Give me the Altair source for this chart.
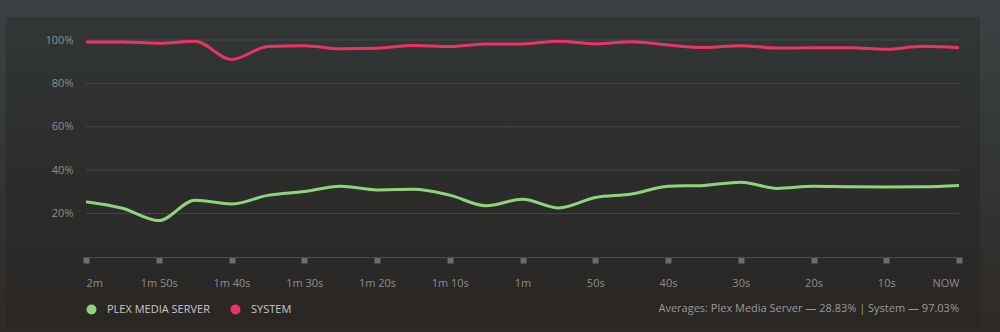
import altair as alt
import pandas as pd

# ---- data ----
seconds = list(range(-120, 1, 5))
plex = [25.5, 22.5, 16.8, 26.2, 24.4, 28.4, 30.2, 32.6, 30.9, 31.2, 28.5, 23.6, 26.6,
        22.6, 27.4, 29.0, 32.6, 33.0, 34.5, 31.6, 32.6, 32.4, 32.3, 32.4, 33.0]
system = [99.1, 99.1, 98.5, 99.4, 91.0, 97.0, 97.4, 96.0, 96.2, 97.5, 97.0, 98.2, 98.2,
          99.4, 98.2, 99.2, 97.7, 96.5, 97.4, 96.3, 96.4, 96.4, 95.7, 97.1, 96.4]
series_names = ["Plex Media Server", "System"]
averages = [28.83, 97.03]
x_tick_values = list(range(-120, 1, 10))
x_tick_labels = ["2m", "1m 50s", "1m 40s", "1m 30s", "1m 20s", "1m 10s", "1m",
                 "50s", "40s", "30s", "20s", "10s", "NOW"]
y_tick_values = [20, 40, 60, 80, 100]
colors = ["#8fd47c", "#ee3360"]

W, H = 873, 217
FONT = "Open Sans"

df = pd.DataFrame({
    "t": seconds * 2,
    "value": plex + system,
    "series": [series_names[0]] * len(seconds) + [series_names[1]] * len(seconds),
})
grid_df = pd.DataFrame({"g": y_tick_values})
one = pd.DataFrame({"a": [0]})

label_arr = "[" + ",".join("'" + s + "'" for s in x_tick_labels) + "]"
label_expr = label_arr + "[round((datum.value + 120) / 10)]"

avg_text = "Averages: {} — {:.2f}% | {} — {:.2f}%".format(
    series_names[0], averages[0], series_names[1], averages[1])

outer = alt.Chart(one).mark_rect(
    fill=alt.Gradient(gradient="linear", x1=0, x2=0, y1=0, y2=1,
                      stops=[alt.GradientStop(color="#3b4243", offset=0),
                             alt.GradientStop(color="#333535", offset=0.5),
                             alt.GradientStop(color="#2f2a26", offset=1)])
).encode(x=alt.value(-86), x2=alt.value(914), y=alt.value(-40), y2=alt.value(292))

panel = alt.Chart(one).mark_rect(
    fill=alt.Gradient(gradient="linear", x1=0, x2=0, y1=0, y2=1,
                      stops=[alt.GradientStop(color="#313636", offset=0),
                             alt.GradientStop(color="#2c2d2b", offset=0.5),
                             alt.GradientStop(color="#2a2624", offset=1)])
).encode(x=alt.value(-80), x2=alt.value(894), y=alt.value(-23), y2=alt.value(287))

grid = alt.Chart(grid_df).mark_rule(color="#434848", strokeWidth=1).encode(
    y=alt.Y("g:Q", scale=alt.Scale(domain=[0, 100])),
    x=alt.value(0), x2=alt.value(W),
)

lines = alt.Chart(df).mark_line(interpolate="monotone", strokeWidth=3).encode(
    x=alt.X("t:Q", scale=alt.Scale(domain=[-120, 0], nice=False),
            axis=alt.Axis(values=x_tick_values, labelExpr=label_expr, title=None,
                          grid=False, domain=True, domainColor="#474b4b",
                          ticks=True, tickSize=6, tickWidth=6, tickCap="butt",
                          tickColor="#6c6c6c", labelFlush=True, labelPadding=14,
                          labelFont=FONT, labelFontSize=11, labelColor="#8e8e8e",
                          zindex=1)),
    y=alt.Y("value:Q", scale=alt.Scale(domain=[0, 100], nice=False),
            axis=alt.Axis(values=y_tick_values, format=".0f", labelExpr="datum.label + '%'",
                          title=None, grid=False, domain=False, ticks=False,
                          labelPadding=13, labelFont=FONT, labelFontSize=11,
                          labelColor="#8e8e8e", zindex=1)),
    color=alt.Color("series:N", scale=alt.Scale(domain=series_names, range=colors),
                    legend=alt.Legend(orient="none", legendX=0, legendY=264,
                                      direction="horizontal", title=None,
                                      symbolType="circle", symbolSize=25,
                                      symbolStrokeWidth=5, symbolOpacity=1,
                                      labelExpr="upper(datum.label)",
                                      labelFont=FONT, labelFontSize=11,
                                      labelColor="#c8c8c8", labelOffset=10,
                                      columnPadding=13, padding=0)),
)

avg = alt.Chart(one).mark_text(
    text=avg_text, align="right", baseline="middle", font=FONT, fontSize=11,
    color="#9a9a9a"
).encode(x=alt.value(W), y=alt.value(269))

chart = alt.layer(outer, panel, grid, lines, avg).properties(
    width=W, height=H,
    autosize=alt.AutoSizeParams(type="none"),
    padding={"left": 86, "top": 40, "right": 41, "bottom": 75},
).configure(background="#333737").configure_view(stroke=None)

chart.save("out.html", embed_options={"renderer": "svg", "actions": False})
